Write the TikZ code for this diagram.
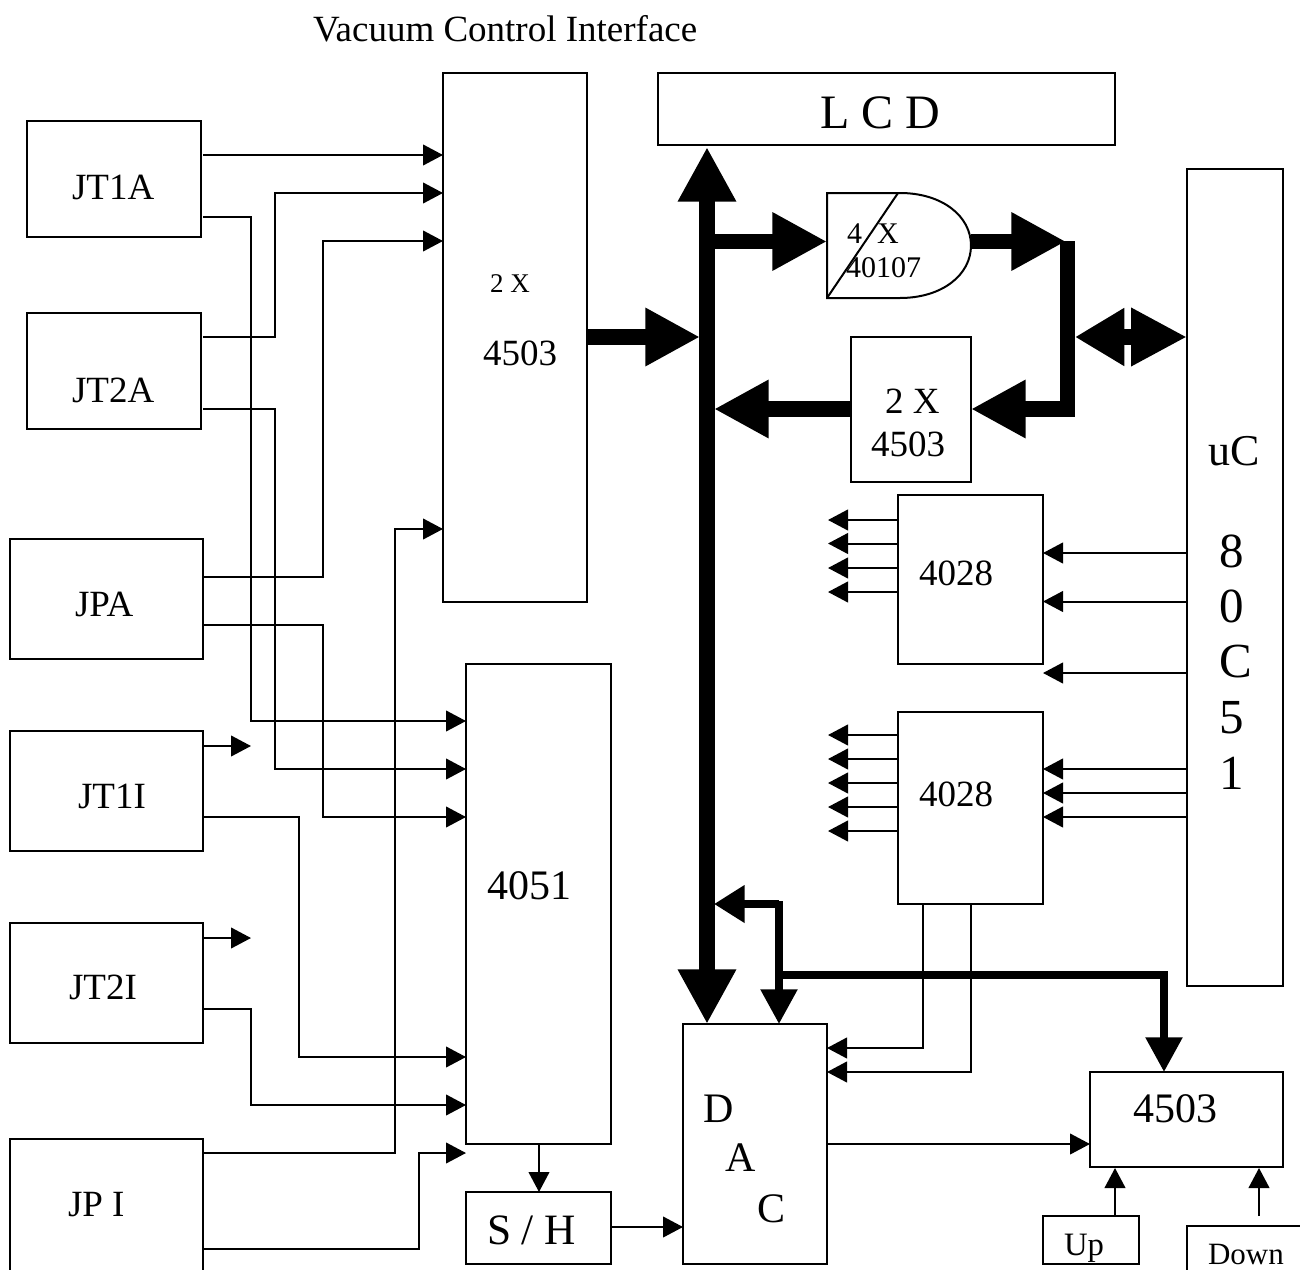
\documentclass[tikz,border=0pt]{standalone}
\usepackage{fontspec}
\setmainfont{Liberation Serif}
\usetikzlibrary{arrows.meta,fit,calc}
\tikzset{
  box/.style={draw,line width=1.6pt,inner sep=0pt,outer sep=0pt},
  ghost/.style={inner sep=0pt,outer sep=0pt},
  wire/.style={line width=1.5pt,line join=miter,-{Triangle[length=15pt,width=15.5pt]}},
  bus/.style={line width=11.6pt,line join=miter,-{Triangle[length=41pt,width=41pt]}},
  busboth/.style={line width=11.6pt,{Triangle[length=41pt,width=41pt]}-{Triangle[length=41pt,width=41pt]}},
  mid/.style={line width=5.6pt,line join=miter,-{Triangle[length=26pt,width=26.5pt]}},
  midshort/.style={line width=5.6pt,line join=miter,-{Triangle[length=23pt,width=27pt]}},
  lbl/.style={anchor=base west,inner sep=0pt,outer sep=0pt},
  fa/.style={lbl,font=\fontsize{27.75pt}{30pt}\selectfont},
  fb/.style={lbl,font=\fontsize{31.5pt}{34pt}\selectfont},
  fs/.style={lbl,font=\fontsize{32.5pt}{35pt}\selectfont},
  fu/.style={lbl,font=\fontsize{33pt}{35pt}\selectfont},
  fc/.style={lbl,font=\fontsize{36.75pt}{39pt}\selectfont},
  fl/.style={lbl,font=\fontsize{36pt}{38pt}\selectfont},
  fd/.style={lbl,font=\fontsize{22.5pt}{25pt}\selectfont},
  fe/.style={lbl,font=\fontsize{20.25pt}{23pt}\selectfont},
  ff/.style={lbl,font=\fontsize{23.25pt}{26pt}\selectfont},
  fg/.style={lbl,font=\fontsize{24.5pt}{27pt}\selectfont},
}
\newcommand{\bx}[5]{\node[box,fit={(#2,#3) (#4,#5)}] (#1) {};}
\begin{document}
\begin{tikzpicture}[x=0.75pt,y=-0.75pt]
\useasboundingbox (0,0) rectangle (1300,1270);
\clip (0,0) rectangle (1300,1270);
% boxes
\bx{jt1a}{27}{121}{201}{237}
\bx{jt2a}{27}{313}{201}{429}
\bx{jpa}{10}{539}{203}{659}
\bx{jt1i}{10}{731}{203}{851}
\bx{jt2i}{10}{923}{203}{1043}
\bx{jpi}{10}{1139}{203}{1300}
\bx{muxa}{443}{73}{587}{602}
\bx{muxb}{466}{664}{611}{1144}
\bx{sh}{466}{1192}{611}{1264}
\bx{lcd}{658}{73}{1115}{145}
\bx{muxc}{851}{337}{971}{482}
\bx{deca}{898}{495}{1043}{664}
\bx{decb}{898}{712}{1043}{904}
\bx{uc}{1187}{169}{1283}{986}
\bx{dac}{683}{1024}{827}{1264}
\bx{muxd}{1090}{1072}{1283}{1167}
\bx{up}{1043}{1216}{1139}{1264}
\bx{down}{1187}{1226}{1340}{1300}
% gate
\node[ghost,fit={(827,193) (971,298)}] (gate) {};
\draw[line width=1.5pt] (gate.north west) -- (900,193) .. controls (942,193) and (971,216) .. (gate.east)
  .. controls (971,275) and (942,298) .. (900,298) -- (gate.south west) -- cycle;
\draw[line width=1.5pt] (gate.south west) -- (898,193);
% free ends
\coordinate (stuba) at (251,746);
\coordinate (stubb) at (251,938);
\coordinate (free) at (466,1153);
\coordinate (freeb) at (1043,673);
\coordinate (downtop) at (1259,1216);
\coordinate (buspt) at (707,337);
% thin wires
\draw[wire] ($(jt1a.east |- 0,155)+(2,0)$) -- (muxa.west |- 0,155);
\draw[wire] ($(jt2a.east |- 0,337)+(2,0)$) -| (275,193) -- (muxa.west |- 0,193);
\draw[wire] (jpa.east |- 0,577) -| (323,241) -- (muxa.west |- 0,241);
\draw[wire] (jpi.east |- 0,1153) -| (395,529) -- (muxa.west |- 0,529);
\draw[wire] ($(jt1a.east |- 0,217)+(2,0)$) -| (251,721) -- (muxb.west |- 0,721);
\draw[wire] ($(jt2a.east |- 0,409)+(2,0)$) -| (275,769) -- (muxb.west |- 0,769);
\draw[wire] (jpa.east |- 0,625) -| (323,817) -- (muxb.west |- 0,817);
\draw[wire] (jt1i.east |- 0,817) -| (299,1057) -- (muxb.west |- 0,1057);
\draw[wire] (jt2i.east |- 0,1009) -| (251,1105) -- (muxb.west |- 0,1105);
\draw[wire] (jpi.east |- 0,1249) -| (419,1153) -- (free);
\draw[wire] (jt1i.east |- stuba) -- (stuba);
\draw[wire] (jt2i.east |- stubb) -- (stubb);
\draw[wire] (539,1144) -- (539,1192);
\draw[wire] (sh.east |- 0,1227) -- (dac.west |- 0,1227);
\draw[wire] (dac.east |- 0,1144) -- (muxd.west |- 0,1144);
\draw[wire] (up.north -| 1115,0) -- (1115,1168);
\draw[wire] (downtop) -- (1259,1168);
\draw[wire] (923,904) |- (dac.east |- 0,1048);
\draw[wire] (971,904) |- (dac.east |- 0,1072);
% decoder outputs
\foreach \yy in {520,543.5,568,592} \draw[wire] (deca.west |- 0,\yy) -- (828,\yy);
\foreach \yy in {735,759,783,807,831} \draw[wire] (decb.west |- 0,\yy) -- (828,\yy);
% decoder inputs
\foreach \yy in {553,601.5} \draw[wire] (uc.west |- 0,\yy) -- (deca.east |- 0,\yy);
\draw[wire] (uc.west |- freeb) -- (freeb);
\foreach \yy in {769,793,817} \draw[wire] (uc.west |- 0,\yy) -- (decb.east |- 0,\yy);
% main bus
\draw[busboth] (707,147) -- (707,1024);
\draw[bus] (muxa.east |- buspt) -- (700,337);
\draw[bus] (707,241.5) -- (gate.west |- 0,241.5);
\draw[bus] (gate.east |- 0,241.5) -- (1066,241.5);
\draw[bus] (muxc.west |- 0,409) -- (714,409);
\draw[bus] (1067.5,241) -- (1067.5,409) -- (muxc.east |- 0,409);
\draw[line width=11.6pt,{Triangle[length=37pt,width=41pt]}-{Triangle[length=42pt,width=41pt]}] (1075,337) -- (uc.west |- 0,337);
% medium bus
\draw[midshort] (779,904) -- (714,904);
\draw[mid] (779,901) -- (779,1024);
\draw[mid] (777,975) -- (1164,975) -- (1164,1072);
% labels
\node[fa] (t0) at (313,41.5) {Vacuum Control Interface};
\node[fl] (t1) at (820,128) {L C D};
\node[fa] (t2) at (72,199) {JT1A};
\node[fa] (t3) at (72,402) {JT2A};
\node[fa] (t4) at (75,616) {JPA};
\node[fa] (t5) at (78,808) {JT1I};
\node[fa] (t6) at (69,999) {JT2I};
\node[fa] (t7) at (68,1216) {JP I};
\node[fe] (t8) at (490,292) {2 X};
\node[fa] (t9) at (483,365) {4503};
\node[fb] (t10) at (487,899) {4051};
\node[fs] (t11) at (487,1244) {S / H};
\node[fd] (t12) at (847,243) {4\ \ X};
\node[fd] (t13) at (846,277) {40107};
\node[fa] (t14) at (885,413) {2 X};
\node[fa] (t15) at (871,456) {4503};
\node[fu] (t16) at (1208,465) {uC};
\node[fc] (t17) at (1219,567) {8};
\node[fc] (t18) at (1219,622) {0};
\node[fc] (t19) at (1219,677) {C};
\node[fc] (t20) at (1219,733) {5};
\node[fc] (t21) at (1219,789) {1};
\node[fa] (t22) at (919,585) {4028};
\node[fa] (t23) at (919,806) {4028};
\node[fb] (t24) at (703,1122) {D};
\node[fb] (t25) at (725,1171) {A};
\node[fb] (t26) at (757,1222) {C};
\node[fb] (t27) at (1133,1122) {4503};
\node[fg] (t28) at (1064,1255) {Up};
\node[ff] (t29) at (1208,1264) {Down};
\end{tikzpicture}
\end{document}
